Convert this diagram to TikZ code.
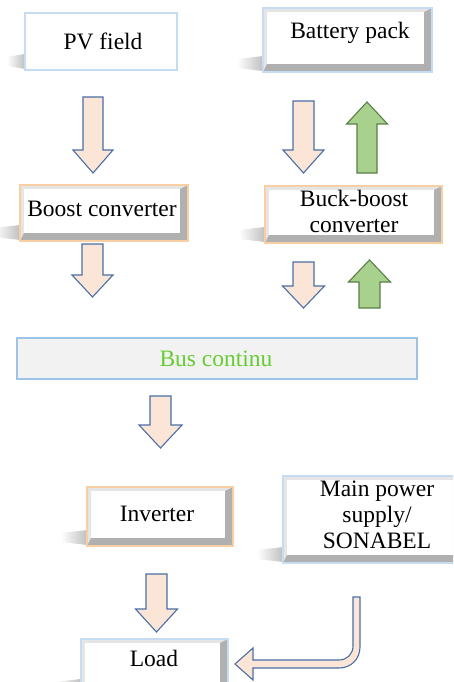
\documentclass[tikz,border=0pt]{standalone}
\usepackage{fontspec}
\setmainfont{Liberation Serif}
\usetikzlibrary{calc}
\definecolor{peach}{HTML}{FBE5D6}
\definecolor{arrowline}{HTML}{4A6FA5}
\definecolor{greenfill}{HTML}{A9D18E}
\definecolor{greenline}{HTML}{5A7F45}
\definecolor{blueedge}{HTML}{C5DCF2}
\definecolor{orangeedge}{HTML}{F7CFA2}
\definecolor{busedge}{HTML}{9DC3E6}
\definecolor{busgreen}{HTML}{66CC33}
\newcommand{\blockarrow}[7]{%
  \draw[#7] (#1-#5,#2) -- (#1-#5,#3) -- (#1-#6,#3) -- (#1,#4) -- (#1+#6,#3) -- (#1+#5,#3) -- (#1+#5,#2) -- cycle;}
\newcommand{\smear}[3]{% x1, y2, width
  \shade[left color=white, right color=gray!50] (#1-#3,#2-13) -- (#1,#2-16) -- (#1,#2-1) -- (#1-#3,#2-4) -- cycle;}
\newcommand{\bevbox}[5]{% x1,y1,x2,y2,edge colour
  \smear{#1}{#4}{26}
  \fill[gray!20] (#1,#2) rectangle (#3,#4);
  \fill[gray!62] (#1,#4) -- (#3,#4) -- (#3,#2) -- (#3-8,#2+4) -- (#3-8,#4-8) -- (#1+4,#4-8) -- cycle;
  \fill[white] (#1+4,#2+4) rectangle (#3-8,#4-8);
  \draw[#5, line width=1.6] (#1,#2) rectangle (#3,#4);}
\begin{document}
\begin{tikzpicture}[x=1pt,y=-1pt,
  lbl/.style={font=\fontsize{23.5}{26}\selectfont, align=center, inner sep=0pt},
  pa/.style={fill=peach, draw=arrowline, line width=1.1, line join=miter},
  ga/.style={fill=greenfill, draw=greenline, line width=1.1, line join=miter}]
\clip (0,0) rectangle (453,682);
\fill[white] (0,0) rectangle (453,682);

% PV field (plain box)
\smear{25}{70}{18}
\draw[blueedge, line width=1.6, fill=white] (25,13) rectangle (177,70);
\node[lbl] (pv) at (103,41) {PV field};

% Battery pack
\bevbox{263}{8}{432}{72}{blueedge}
\node[lbl] (bat) at (350,33) {Battery pack};

% Boost converter
\bevbox{20}{185}{188}{241}{orangeedge}
\node[lbl] (boost) at (102,209) {Boost converter};

% Buck-boost converter
\bevbox{265}{186}{442}{243}{orangeedge}
\node[lbl] (buck) at (354,211) {Buck-boost\\converter};

% Bus continu
\draw[busedge, line width=2.6, fill=gray!10] (17,338) rectangle (417,379);
\node[lbl, text=busgreen] (bus) at (216,359) {Bus continu};

% Inverter
\bevbox{87}{487}{233}{546}{orangeedge}
\node[lbl] (inv) at (157,514) {Inverter};

% Main power supply
\bevbox{283}{476}{462}{563}{blueedge}
\node[lbl] (main) at (377,515) {Main power\\supply/\\SONABEL};

% Load
\bevbox{81}{639}{228}{695}{blueedge}
\node[lbl] (load) at (154,658) {Load};

% block arrows
\blockarrow{93}{97}{150}{173}{10}{20}{pa}
\blockarrow{303.5}{101}{150}{173}{10.5}{20.5}{pa}
\blockarrow{367}{173}{124}{102}{10}{20.5}{ga}
\blockarrow{92.5}{244}{275}{297}{10.5}{20.5}{pa}
\blockarrow{303.5}{262}{286}{308}{10.5}{21}{pa}
\blockarrow{369.5}{308}{282}{260}{10.5}{21}{ga}
\blockarrow{160.5}{396}{425}{448}{10.5}{21.5}{pa}
\blockarrow{156.5}{574}{609}{632}{10.5}{21}{pa}

% curved arrow from main supply to load
\draw[pa] (353,597) -- (360,597) -- (360,647)
  .. controls (360,659) and (351,668) .. (339,668)
  -- (253,668) -- (253,680) -- (235,664) -- (253,648) -- (253,660)
  -- (339,660) .. controls (347,660) and (353,654) .. (353,646) -- cycle;
\end{tikzpicture}
\end{document}
